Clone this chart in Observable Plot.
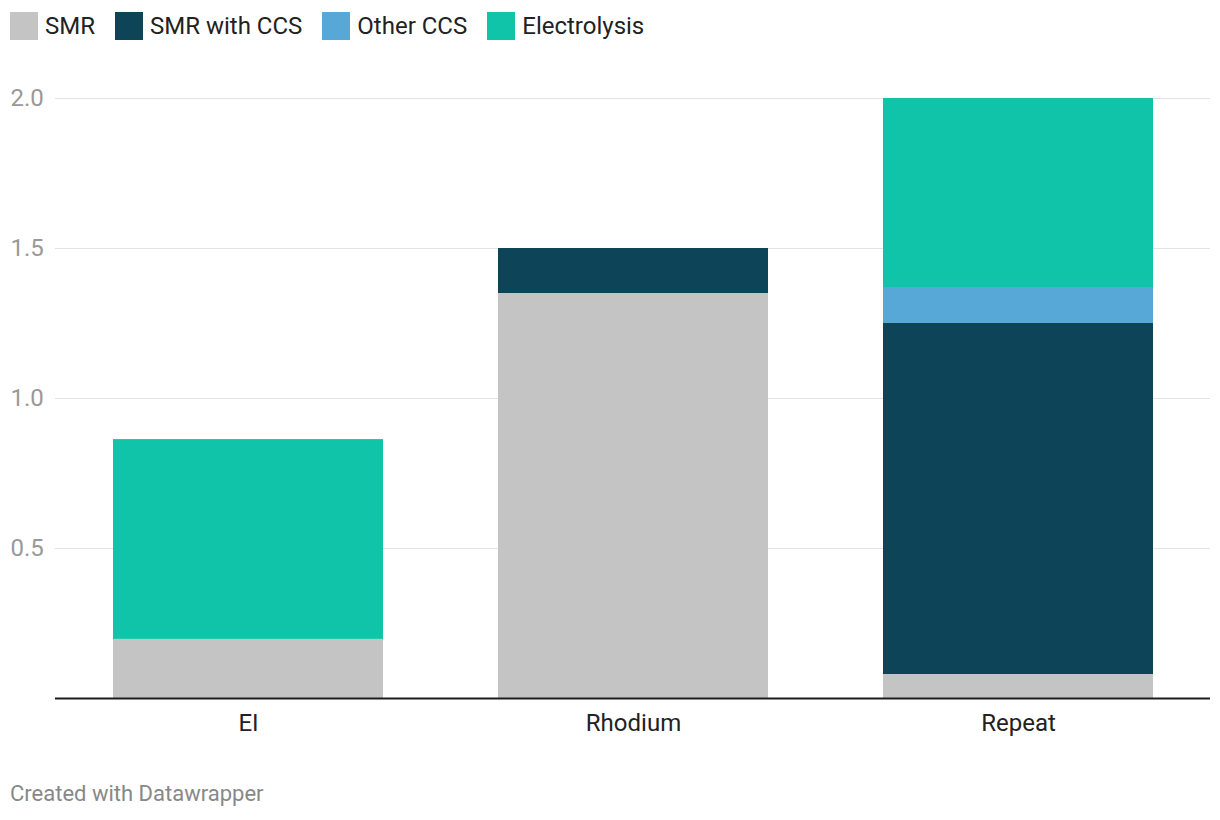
<!DOCTYPE html>
<html>
<head>
<meta charset="utf-8">
<script src="https://cdn.jsdelivr.net/npm/d3@7"></script>
<script src="https://cdn.jsdelivr.net/npm/@observablehq/plot@0.6"></script>
<style>
  html, body { margin: 0; padding: 0; background: #fff; }
  body { width: 1220px; height: 820px; position: relative; font-family: Roboto, "Noto Sans", sans-serif; overflow: hidden; }
  #legend { position: absolute; left: 10px; top: 12px; display: flex; align-items: center; font-size: 24px; color: #222; }
  .item { display: flex; align-items: center; margin-right: 20px; }
  .sw { width: 28px; height: 28px; margin-right: 7px; }
  #chart { position: absolute; left: 0; top: 70px; }
  #footer { position: absolute; left: 10px; top: 781px; font-size: 22px; color: #888; }
</style>
</head>
<body>
<div id="legend"></div>
<div id="chart"></div>
<div id="footer">Created with Datawrapper</div>
<script>
const categories = ["EI", "Rhodium", "Repeat"];
const series = ["SMR", "SMR with CCS", "Other CCS", "Electrolysis"];
const colors = ["#c4c4c4", "#0e4458", "#57a8d6", "#0fc4a8"];
const smr = [0.197, 1.35, 0.08];
const smrCcs = [0, 0.15, 1.17];
const otherCcs = [0, 0, 0.12];
const electrolysis = [0.666, 0, 0.63];
const yTicks = [0.5, 1.0, 1.5, 2.0];

const valuesBySeries = [smr, smrCcs, otherCcs, electrolysis];
const data = [];
series.forEach((s, si) => {
  categories.forEach((c, ci) => {
    data.push({category: c, series: s, value: valuesBySeries[si][ci]});
  });
});

// legend
const legend = document.getElementById("legend");
series.forEach((s, i) => {
  const it = document.createElement("div");
  it.className = "item";
  const sw = document.createElement("div");
  sw.className = "sw";
  sw.style.background = colors[i];
  const t = document.createElement("span");
  t.textContent = s;
  it.appendChild(sw); it.appendChild(t);
  legend.appendChild(it);
});

const chart = Plot.plot({
  width: 1220,
  height: 678,
  marginTop: 28,
  marginBottom: 50,
  marginLeft: 55,
  marginRight: 10,
  style: {fontFamily: "Roboto, sans-serif", fontSize: "24px", background: "#fff"},
  x: {domain: categories, paddingInner: 0.3, paddingOuter: 0.15, label: null},
  y: {domain: [0, 2], label: null},
  color: {domain: series, range: colors},
  marks: [
    Plot.ruleY(yTicks, {stroke: "#e3e3e3", strokeWidth: 1}),
    Plot.barY(data, {x: "category", y: "value", fill: "series", order: null}),
    Plot.ruleY([0], {stroke: "#1d1d1d", strokeWidth: 2}),
    Plot.axisY({ticks: yTicks, tickSize: 0, tickPadding: 0, textAnchor: "start", dx: -45, tickFormat: d3.format(".1f"), fill: "#999", label: null}),
    Plot.axisX({tickSize: 0, tickPadding: 15, fill: "#222", label: null})
  ]
});
document.getElementById("chart").appendChild(chart);
</script>
</body>
</html>
